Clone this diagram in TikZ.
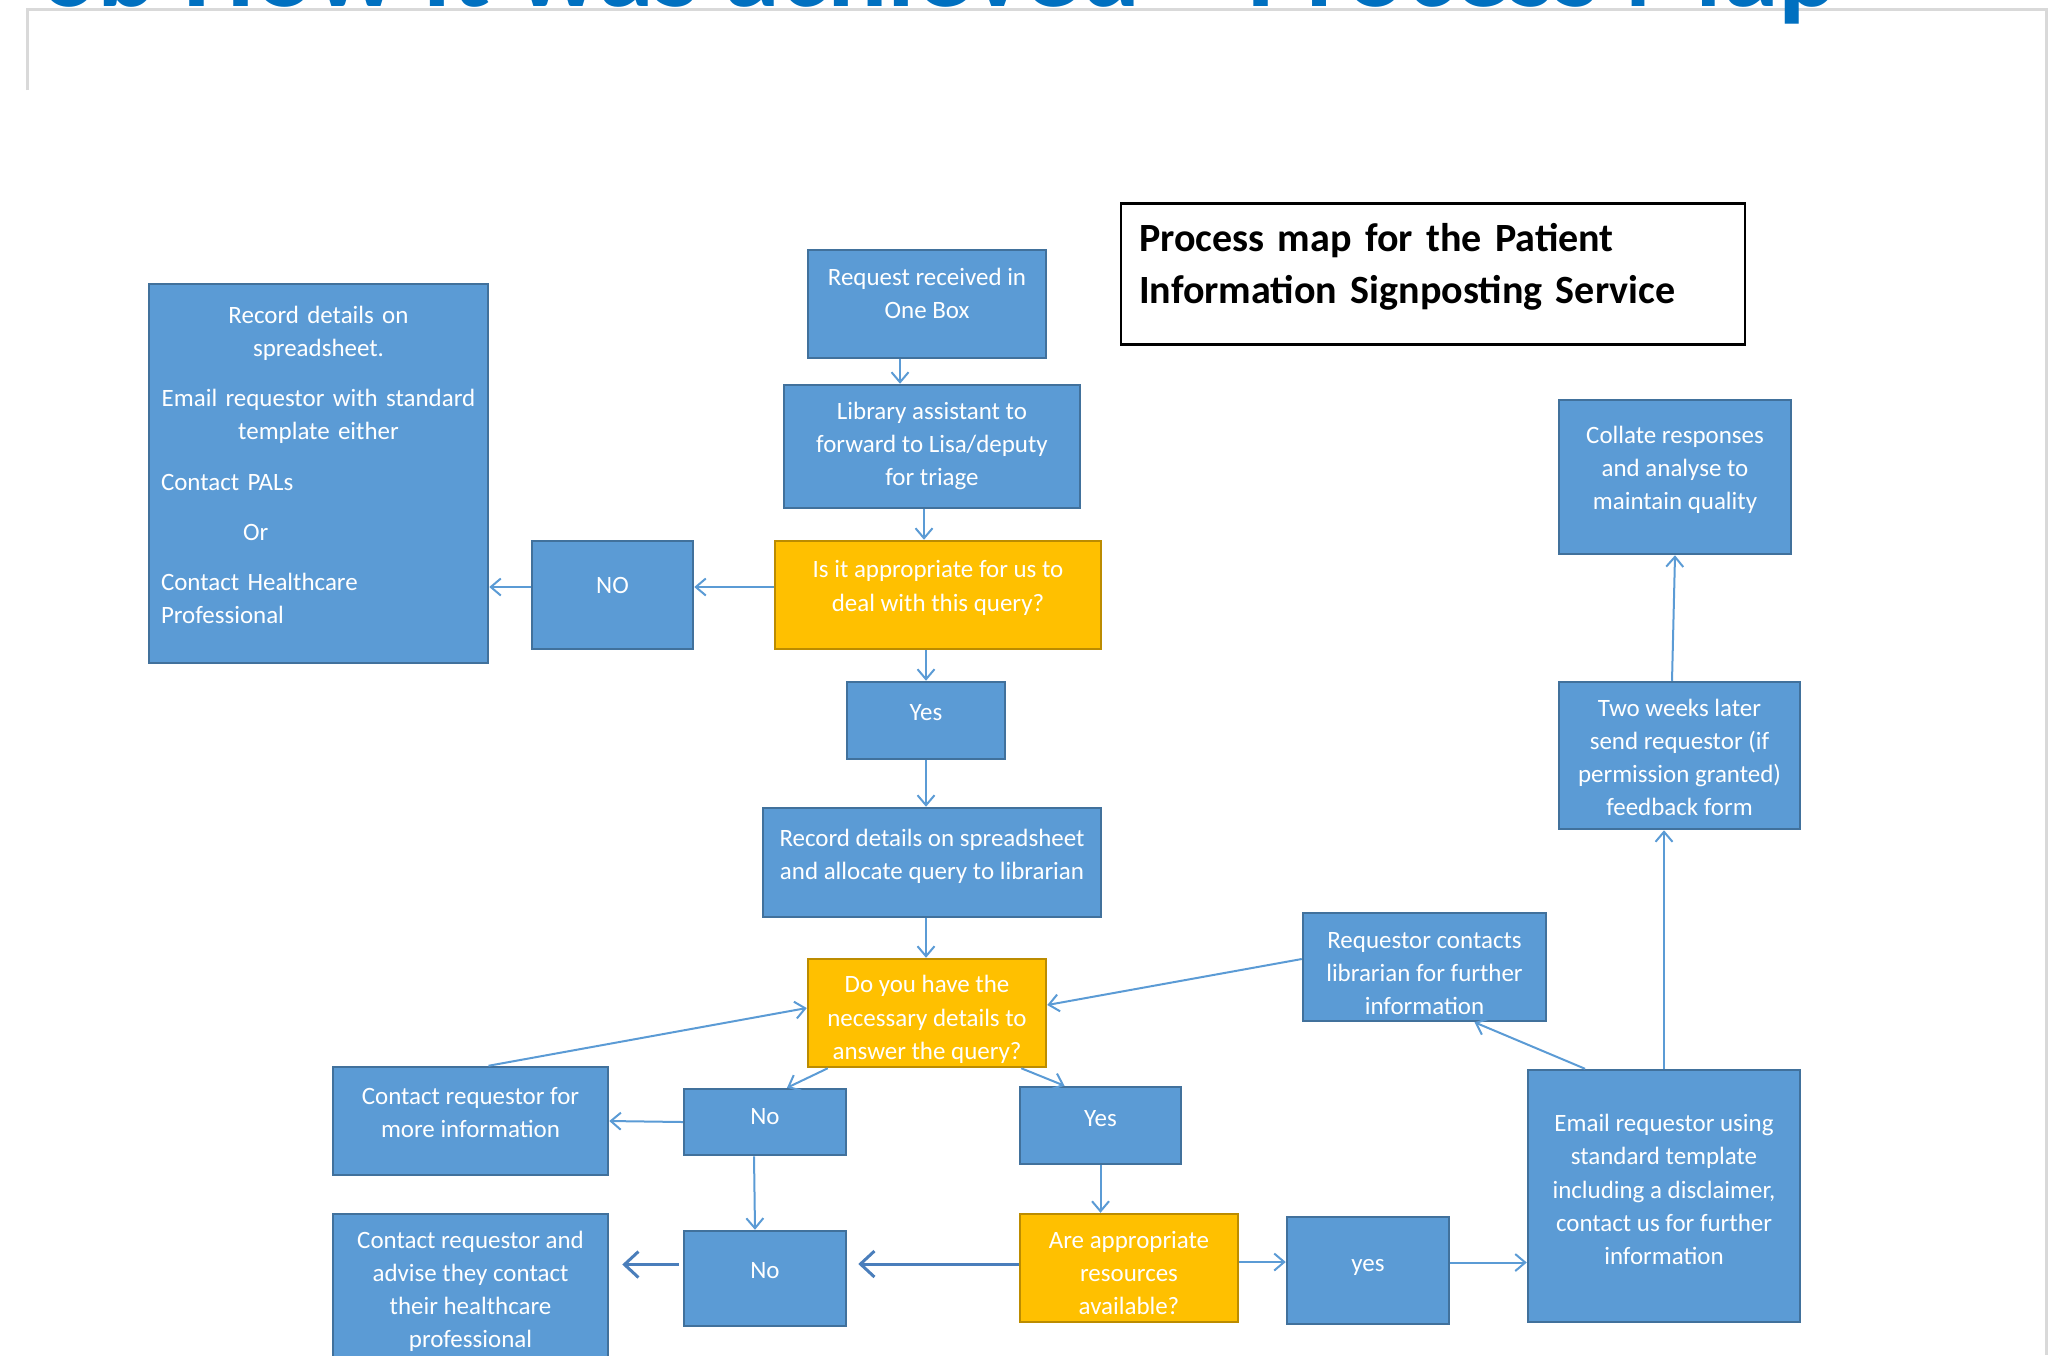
\documentclass[tikz,border=0pt]{standalone}
\usepackage{fontspec}
\setmainfont{Carlito}
\usetikzlibrary{arrows.meta}

\definecolor{boxblue}{HTML}{5B9BD5}
\definecolor{boxedge}{HTML}{41719C}
\definecolor{askgold}{HTML}{FFC000}
\definecolor{askedge}{HTML}{BC8C00}
\definecolor{heavyblue}{HTML}{4A7EBB}
\definecolor{titleblue}{HTML}{0070C0}
\definecolor{framegrey}{HTML}{D9D9D9}

% text sits high in the boxes: fixed top strut, bottom strut per box
\newcommand{\lift}[2]{\rule{0pt}{3mm}#2\rule[-#1]{0pt}{0pt}}

\tikzset{
  bluebox/.style={draw=boxedge, fill=boxblue, line width=0.25mm, text=white, align=center,
    inner sep=0pt, font=\fontsize{7.1pt}{9.4pt}\selectfont},
  goldbox/.style={bluebox, draw=askedge, fill=askgold},
  arr/.style={draw=boxblue, line width=0.2mm, -{Straight Barb[length=1mm,width=1.7mm]}},
  heavyarr/.style={draw=heavyblue, line width=0.3mm, -{Straight Barb[length=1.4mm,width=2.6mm]}}
}

\begin{document}
\begin{tikzpicture}[x=0.1mm,y=-0.1mm]
\useasboundingbox (0,0) rectangle (2063,1355);
\draw[framegrey, line width=0.3mm] (27,90) -- (27,9) -- (2046,9) -- (2046,1355);
\node[anchor=base west, inner sep=0pt, text=titleblue, font=\bfseries\fontsize{32pt}{38pt}\selectfont] (pagehead) at (40,6) {6b How it was achieved – Process Map};

\node[draw=black, line width=0.25mm, fill=white, minimum width=62.4mm, minimum height=14.1mm, text width=58.8mm, align=left, inner sep=0pt, font=\bfseries\fontsize{11.4pt}{15pt}\selectfont] (maptitle) at (1433,274) {\rule{0pt}{4mm}Process map for the Patient\\Information Signposting Service\rule[-3.3mm]{0pt}{0pt}};

\node[bluebox, minimum width=33.9mm, minimum height=37.9mm, text width=31.5mm, align=left] (spread) at (318.5,473.5) {\lift{3mm}{{\centering Record details on\\spreadsheet.\par}\vspace{1.7mm}
{\centering Email requestor with standard\\template either\par}\vspace{1.7mm}
Contact PALs\par\vspace{1.7mm}
\hspace*{8.2mm}Or\par\vspace{1.7mm}
Contact Healthcare\\Professional}};
\node[bluebox, minimum width=23.8mm, minimum height=10.8mm] (req) at (927,304) {\lift{3.4mm}{Request received in\\One Box}};
\node[bluebox, minimum width=29.6mm, minimum height=12.3mm] (assist) at (932,446.5) {\lift{1.8mm}{Library assistant to\\forward to Lisa/deputy\\for triage}};
\node[goldbox, minimum width=32.6mm, minimum height=10.8mm] (approp) at (938,595) {\lift{3.1mm}{Is it appropriate for us to\\deal with this query?}};
\node[bluebox, minimum width=16.1mm, minimum height=10.8mm] (nobox) at (612.5,595) {\lift{3.3mm}{NO}};
\node[bluebox, minimum width=15.8mm, minimum height=7.7mm] (yes1) at (926,720.5) {\lift{3mm}{Yes}};
\node[bluebox, minimum width=33.8mm, minimum height=10.9mm] (alloc) at (932,862.5) {\lift{2.9mm}{Record details on spreadsheet\\and allocate query to librarian}};
\node[goldbox, minimum width=23.8mm, minimum height=10.8mm] (details) at (927,1013) {\lift{0.3mm}{Do you have the\\necessary details to\\answer the query?}};
\node[bluebox, minimum width=24.3mm, minimum height=10.8mm] (contacts) at (1424.5,967) {\lift{0.1mm}{Requestor contacts\\librarian for further\\information}};
\node[bluebox, minimum width=23.2mm, minimum height=15.4mm] (collate) at (1675,477) {\lift{3.1mm}{Collate responses\\and analyse to\\maintain quality}};
\node[bluebox, minimum width=24.1mm, minimum height=14.7mm] (twoweeks) at (1679.5,755.5) {\lift{0.9mm}{Two weeks later\\send requestor (if\\permission granted)\\feedback form}};
\node[bluebox, minimum width=27.2mm, minimum height=25.2mm] (email) at (1664,1196) {\lift{2.6mm}{Email requestor using\\standard template\\including a disclaimer,\\contact us for further\\information}};
\node[bluebox, minimum width=27.5mm, minimum height=10.8mm] (moreinfo) at (470.5,1121) {\lift{3.1mm}{Contact requestor for\\more information}};
\node[bluebox, minimum width=16.2mm, minimum height=6.6mm] (no1) at (765,1122) {\lift{2.5mm}{No}};
\node[bluebox, minimum width=16.1mm, minimum height=7.7mm] (yes2) at (1100.5,1125.5) {\lift{2.8mm}{Yes}};
\node[bluebox, minimum width=27.5mm, minimum height=16.2mm] (advise) at (470.5,1295) {\lift{2.4mm}{Contact requestor and\\advise they contact\\their healthcare\\professional}};
\node[bluebox, minimum width=16.2mm, minimum height=9.5mm] (no2) at (765,1278.5) {\lift{3mm}{No}};
\node[goldbox, minimum width=21.8mm, minimum height=10.8mm] (resources) at (1129,1268) {\lift{0.3mm}{Are appropriate\\resources\\available?}};
\node[bluebox, minimum width=16.2mm, minimum height=10.7mm] (yes3) at (1368,1270.5) {\lift{2.9mm}{yes}};

\draw[arr] ([xshift=-2.7mm]req.south) -- ([xshift=-2.7mm]req.south |- assist.north);
\draw[arr] ([xshift=-0.8mm]assist.south) -- ([xshift=-0.8mm]assist.south |- approp.north);
\draw[arr] ([yshift=0.8mm]approp.west) -- ([yshift=0.8mm]nobox.east);
\draw[arr] ([yshift=0.8mm]nobox.west) -- ([yshift=0.8mm]nobox.west -| spread.east);
\draw[arr] (yes1.north |- approp.south) -- (yes1.north);
\draw[arr] (yes1.south) -- (yes1.south |- alloc.north);
\draw[arr] (yes1.south |- alloc.south) -- (yes1.south |- details.north);
\draw[arr] ([xshift=1.8mm]moreinfo.north) -- ([yshift=0.5mm]details.west);
\draw[arr] ([yshift=0.8mm]contacts.west) -- ([yshift=0.8mm]details.east);
\draw[arr] ([xshift=2.1mm]details.south west) -- ([xshift=2.2mm]no1.north);
\draw[arr] ([xshift=-2.6mm]details.south east) -- ([xshift=-3.6mm]yes2.north);
\draw[arr] (no1.west) -- (moreinfo.east);
\draw[arr] ([xshift=-1.1mm]no1.south) -- ([xshift=-1mm]no2.north);
\draw[arr] (yes2.south) -- (yes2.south |- resources.north);
\draw[heavyarr, shorten >=1.1mm] ([yshift=0.4mm]resources.west) -- ([yshift=0.4mm]resources.west -| no2.east);
\draw[heavyarr, shorten <=0.4mm, shorten >=1.3mm] ([yshift=1.4mm]no2.west) -- ([yshift=1.4mm]no2.west -| advise.east);
\draw[arr] ([yshift=0.6mm]resources.east) -- ([yshift=0.6mm]resources.east -| yes3.west);
\draw[arr] ([yshift=0.8mm]yes3.east) -- ([yshift=0.8mm]yes3.east -| email.west);
\draw[arr] ([xshift=-7.9mm]email.north) -- ([xshift=5mm]contacts.south);
\draw[arr] (email.north) -- (email.north |- twoweeks.south);
\draw[arr] ([xshift=-0.75mm]twoweeks.north) -- (collate.south);
\end{tikzpicture}
\end{document}
